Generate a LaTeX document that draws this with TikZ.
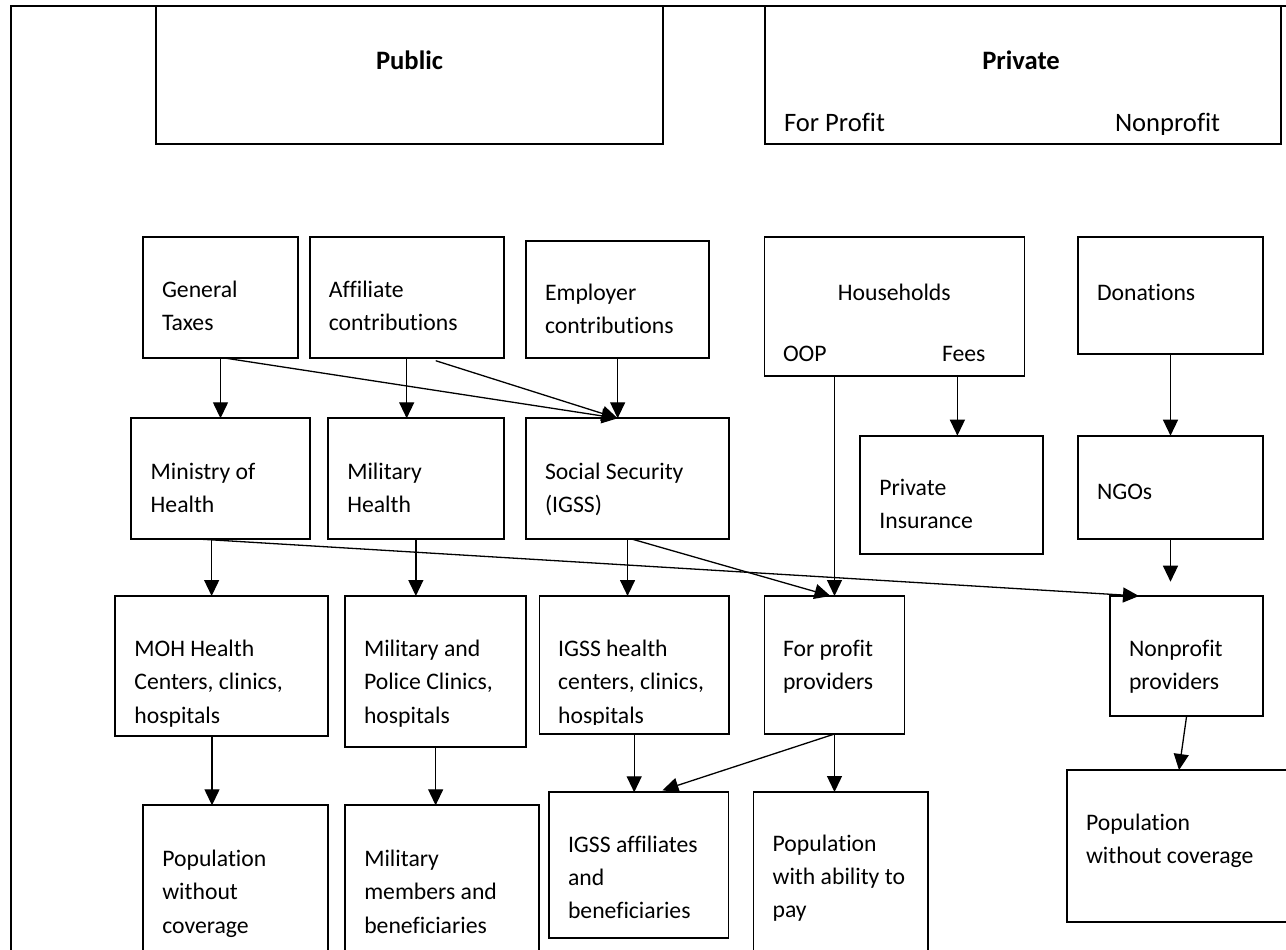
\documentclass[tikz,border=0pt]{standalone}
\usepackage{fontspec}
\setmainfont{Carlito}[Ligatures=NoCommon]
\usetikzlibrary{arrows.meta,fit,calc}
\begin{document}
\begin{tikzpicture}[x=0.5pt,y=-0.5pt,
  box/.style={draw, line width=0.85pt, inner sep=0pt, outer sep=0pt},
  txt/.style={anchor=north west, align=left, inner sep=0pt, outer sep=0pt, yshift=-2pt,
    font=\fontsize{11.85pt}{16.65pt}\selectfont, execute at begin node=\rule{0pt}{10pt}},
  ctxt/.style={txt, anchor=north, align=center},
  htxt/.style={inner sep=0pt, outer sep=0pt, font=\fontsize{13.3pt}{16pt}\selectfont},
  arr/.style={line width=0.65pt, -{Triangle[length=8pt,width=7.5pt]}},
]
\useasboundingbox (0,0) rectangle (1286,949);
\clip (0,0) rectangle (1286,949);

% outer frame
\draw[line width=0.85pt] (11,960) -- (11,6) -- (1295,6);

% header boxes
\node[box, fit={(155.7,6) (663,144)}] (pub) {};
\node[box, fit={(765,6) (1281,144)}] (priv) {};
\node[htxt, anchor=base] (pub-t) at (409.5,69.3) {\bfseries Public};
\begin{scope}
\clip (765,6) rectangle (1281,134);
\node[htxt, anchor=base] (priv-t) at (1021,69.3) {\bfseries Private};
\node[htxt, anchor=base west] (fp-t) at (784,131.7) {For Profit};
\node[htxt, anchor=base west] (np-t) at (1115,131.7) {Nonprofit};
\end{scope}

% row 1: sources
\node[box, fit={(143,237.3) (298,357.7)}] (gt) {};
\node[box, fit={(309.7,237.3) (503.7,357.7)}] (aff) {};
\node[box, fit={(526,241) (709.3,357.7)}] (emp) {};
\node[box, fit={(764.6,237.3) (1024.4,376)}] (hh) {};
\node[box, fit={(1077.8,237.3) (1263.2,354.3)}] (don) {};
\node[txt] (gt-t) at (162,276.7) {General\\Taxes};
\node[txt] (aff-t) at (328.9,276.7) {Affiliate\\contributions};
\node[txt] (emp-t) at (545,280) {Employer\\contributions};
\node[ctxt] (hh-t) at (894.3,276.7) {Households};
\node[txt] (oop-t) at (783,337.7) {OOP};
\node[txt] (fees-t) at (942,337.7) {Fees};
\node[txt] (don-t) at (1097,276.7) {Donations};

% row 2: agents
\node[box, fit={(131,418.3) (310.3,538.7)}] (moh) {};
\node[box, fit={(328,418.3) (503.7,538.7)}] (mh) {};
\node[box, fit={(526.3,418.3) (728.8,538.7)}] (ss) {};
\node[box, fit={(860,435.7) (1042.7,554.3)}] (pi) {};
\node[box, fit={(1077.8,435.7) (1263.2,538.7)}] (ngo) {};
\node[txt] (moh-t) at (150.7,458.7) {Ministry of\\Health};
\node[txt] (mh-t) at (347.3,458.7) {Military\\Health};
\node[txt] (ss-t) at (545,458.7) {Social Security\\(IGSS)};
\node[txt] (pi-t) at (879.4,475) {Private\\Insurance};
\node[txt] (ngo-t) at (1097,475) {NGOs};

% row 3: providers
\node[box, fit={(114.7,596) (328.3,736)}] (mohhc) {};
\node[box, fit={(345,596) (526.3,746.7)}] (mp) {};
\node[box, fit={(539.6,596) (728.8,734)}] (igsshc) {};
\node[box, fit={(764.6,596) (904.4,734)}] (fpp) {};
\node[box, fit={(1110,596) (1263.3,715.7)}] (npp) {};
\node[txt] (mohhc-t) at (134.4,636) {MOH Health\\Centers, clinics,\\hospitals};
\node[txt] (mp-t) at (364,636) {Military and\\Police Clinics,\\hospitals};
\begin{scope}
\clip (539.6,596) rectangle (728.8,724);
\node[txt] (igsshc-t) at (558.2,636) {IGSS health\\centers, clinics,\\hospitals};
\end{scope}
\node[txt] (fpp-t) at (783,636) {For profit\\providers};
\node[txt] (npp-t) at (1129,636) {Nonprofit\\providers};

% row 4: populations
\node[box, fit={(143.3,805.3) (328.3,960)}] (pop1) {};
\node[box, fit={(345,805.3) (539.3,960)}] (mil) {};
\node[box, fit={(549.3,792.3) (728.6,938.3)}] (igssaff) {};
\node[box, fit={(753.4,792) (928,960)}] (popab) {};
\node[box, fit={(1066.7,770) (1295,921.7)}] (pop2) {};
\node[txt] (pop1-t) at (162.3,846) {Population\\without\\coverage};
\node[txt] (mil-t) at (364.3,846) {Military\\members and\\beneficiaries};
\node[txt] (igssaff-t) at (568,831.7) {IGSS affiliates\\and\\beneficiaries};
\node[txt] (popab-t) at (772.6,830.7) {Population\\with ability to\\pay};
\node[txt] (pop2-t) at (1086,810) {Population\\without coverage};

% connectors
\draw[arr] (gt.south) -- (gt.south |- moh.north);
\draw[arr] (aff.south) -- (aff.south |- mh.north);
\draw[arr] (emp.south) -- (emp.south |- ss.north);
\draw[arr] ($(gt.south)+(2,0)$) -- (emp.south |- ss.north);
\draw[arr] ($(aff.south)+(29,3)$) -- (emp.south |- ss.north);
\coordinate (c1) at ($(moh.south)+(-9,0)$);
\draw[arr] (c1) -- (c1 |- mohhc.north);
\draw[arr] (mh.south) -- (mh.south |- mp.north);
\draw[arr] (ss.south) -- (ss.south |- igsshc.north);
\draw[arr] ($(moh.south)+(-28,0)$) -- ($(npp.north west)+(29,0)$);
\draw[arr] ($(ss.south)+(3,0)$) -- ($(fpp.north)+(-4,0)$);
\draw[arr] (fpp.north |- hh.south) -- (fpp.north);
\coordinate (c2) at ($(hh.south east)+(-67,0)$);
\draw[arr] (c2) -- (c2 |- pi.north);
\draw[arr] (don.south) -- (don.south |- ngo.north);
\coordinate (ngoend) at ($(ngo.south)+(0,43)$);
\draw[arr] (ngo.south) -- (ngoend);
\coordinate (c3) at ($(mohhc.south)+(-9.5,0)$);
\draw[arr] (c3) -- (c3 |- pop1.north);
\draw[arr] (mp.south) -- (mp.south |- mil.north);
\draw[arr] (igsshc.south) -- (igsshc.south |- igssaff.north);
\draw[arr] (fpp.south) -- ($(igssaff.north)+(23.5,-2)$);
\draw[arr] (fpp.south) -- (fpp.south |- popab.north);
\draw[arr] (npp.south) -- ($(pop2.north west)+(112.3,0)$);
\end{tikzpicture}
\end{document}
